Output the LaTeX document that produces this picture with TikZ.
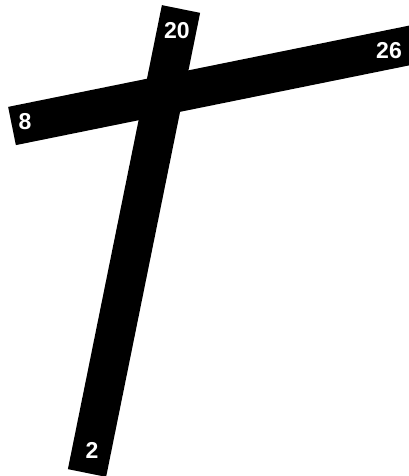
\documentclass[tikz,border=0pt]{standalone}
\usepackage{fontspec}
\setmainfont{Liberation Sans}
\begin{document}
\begin{tikzpicture}[x=1pt,y=-1pt,
  bar/.style={line width=39pt, line cap=butt, draw=black},
  lbl/.style={text=white, font=\bfseries\fontsize{23}{23}\selectfont, inner sep=0pt}]
\useasboundingbox (0,0) rectangle (409,476);
\begin{scope}
\clip (0,0) rectangle (409,476);
\coordinate (vt) at (181,9);
\coordinate (vb) at (87,473);
\coordinate (hl) at (12,126);
\coordinate (hr) at (420,43.3);
\draw[bar] (vt) -- (vb);
\draw[bar] (hl) -- (hr);
\end{scope}
\node[lbl] (n20) at (177,31) {20};
\node[lbl] (n8) at (25,122) {8};
\node[lbl] (n26) at (389,51) {26};
\node[lbl] (n2) at (92,450) {2};
\end{tikzpicture}
\end{document}
